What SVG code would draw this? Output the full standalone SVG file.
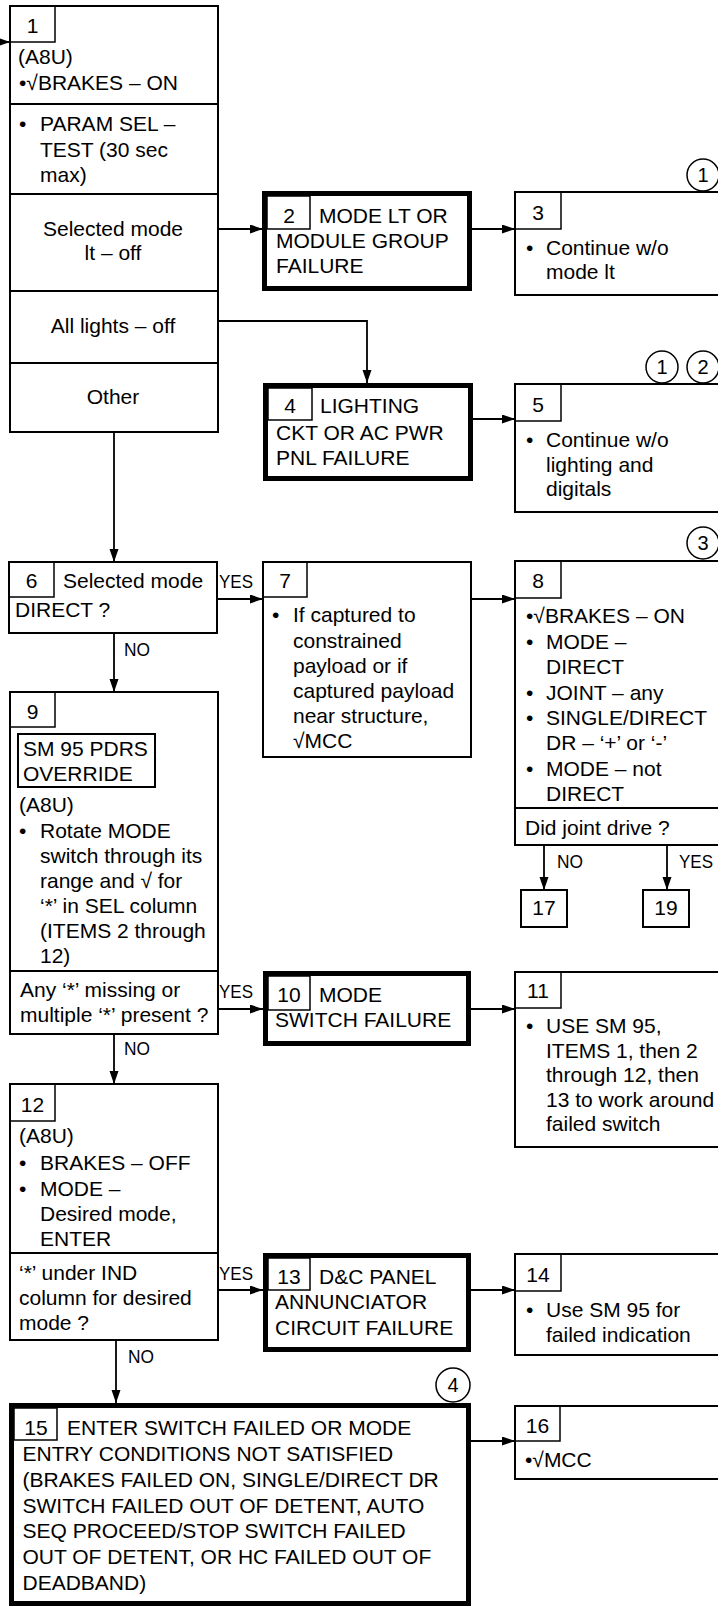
<svg xmlns="http://www.w3.org/2000/svg" width="718" height="1606" viewBox="0 0 718 1606">
<style>
text{font-family:"Liberation Sans",Arial,sans-serif;font-size:21px;fill:#000}
.c{text-anchor:middle}
.lbl{font-size:19px}
.cn{font-size:20px;text-anchor:middle}
.b{fill:#fff;stroke:#000;stroke-width:2}
.tk{fill:#fff;stroke:#000;stroke-width:5}
.n{fill:none;stroke:#000;stroke-width:1.5}
.d{fill:none;stroke:#000;stroke-width:2}
.ci{fill:#fff;stroke:#000;stroke-width:1.5}
.cx path,.cx line{fill:none;stroke:#000;stroke-width:1.8;marker-end:url(#ah)}
</style>
<defs>
<marker id="ah" markerUnits="userSpaceOnUse" markerWidth="14" markerHeight="10" refX="13" refY="4.5" orient="auto">
<path d="M0,0 L13,4.5 L0,9 z" fill="#000"/>
</marker>
</defs>
<rect width="718" height="1606" fill="#fff"/>

<g id="connectors" class="cx">
<line x1="0" y1="42" x2="10" y2="42"/>
<line x1="218" y1="229" x2="263" y2="229"/>
<line x1="472" y1="229" x2="515" y2="229"/>
<path d="M218,321 H367 V383"/>
<line x1="473" y1="419" x2="515" y2="419"/>
<line x1="114" y1="432" x2="114" y2="562"/>
<line x1="217" y1="599" x2="263" y2="599"/>
<line x1="471" y1="599" x2="515" y2="599"/>
<line x1="114" y1="633" x2="114" y2="692"/>
<line x1="544" y1="845" x2="544" y2="890"/>
<line x1="667" y1="845" x2="667" y2="890"/>
<line x1="218" y1="1009" x2="263" y2="1009"/>
<line x1="471" y1="1009" x2="515" y2="1009"/>
<line x1="114" y1="1034" x2="114" y2="1084"/>
<line x1="218" y1="1290" x2="263" y2="1290"/>
<line x1="471" y1="1290" x2="515" y2="1290"/>
<line x1="116" y1="1340" x2="116" y2="1403"/>
<line x1="471" y1="1441" x2="515" y2="1441"/>
<text class="lbl" x="219" y="588" textLength="34" lengthAdjust="spacingAndGlyphs">YES</text>
<text class="lbl" x="124" y="656" textLength="26" lengthAdjust="spacingAndGlyphs">NO</text>
<text class="lbl" x="557" y="868" textLength="26" lengthAdjust="spacingAndGlyphs">NO</text>
<text class="lbl" x="679" y="868" textLength="34" lengthAdjust="spacingAndGlyphs">YES</text>
<text class="lbl" x="219" y="998" textLength="34" lengthAdjust="spacingAndGlyphs">YES</text>
<text class="lbl" x="124" y="1055" textLength="26" lengthAdjust="spacingAndGlyphs">NO</text>
<text class="lbl" x="219" y="1280" textLength="34" lengthAdjust="spacingAndGlyphs">YES</text>
<text class="lbl" x="128" y="1363" textLength="26" lengthAdjust="spacingAndGlyphs">NO</text>
</g>

<g id="node1">
<rect class="b" x="10" y="6" width="208" height="426"/>
<rect class="n" x="10" y="6" width="45" height="36"/>
<text class="c" x="32.5" y="33">1</text>
<text x="18" y="64">(A8U)</text>
<text x="19" y="90">•√BRAKES – ON</text>
<line class="d" x1="10" y1="104" x2="218" y2="104"/>
<text x="19" y="131">•</text>
<text x="40" y="131">PARAM SEL –</text>
<text x="40" y="156.5">TEST (30 sec</text>
<text x="40" y="182">max)</text>
<line class="d" x1="10" y1="194" x2="218" y2="194"/>
<text class="c" x="113" y="236">Selected mode</text>
<text class="c" x="113" y="260">lt – off</text>
<line class="d" x1="10" y1="291" x2="218" y2="291"/>
<text class="c" x="113" y="333">All lights – off</text>
<line class="d" x1="10" y1="363" x2="218" y2="363"/>
<text class="c" x="113" y="404">Other</text>
</g>

<g id="node2">
<rect class="tk" x="264.5" y="193.5" width="205" height="95"/>
<rect class="n" x="267" y="196" width="43" height="33"/>
<text class="c" x="289" y="223">2</text>
<text x="319" y="223">MODE LT OR</text>
<text x="276" y="248">MODULE GROUP</text>
<text x="276" y="273">FAILURE</text>
</g>

<g id="node3">
<rect class="b" x="515" y="192" width="220" height="103"/>
<rect class="n" x="515" y="192" width="46" height="37"/>
<text class="c" x="538" y="220">3</text>
<text x="526" y="255">•</text>
<text x="546" y="255">Continue w/o</text>
<text x="546" y="279">mode lt</text>
<circle class="ci" cx="703" cy="175" r="16"/>
<text class="cn" x="703" y="182">1</text>
</g>

<g id="node4">
<rect class="tk" x="265.5" y="385.5" width="205" height="93"/>
<rect class="n" x="268" y="388" width="44" height="32"/>
<text class="c" x="290" y="413">4</text>
<text x="320" y="413">LIGHTING</text>
<text x="276" y="440">CKT OR AC PWR</text>
<text x="276" y="465">PNL FAILURE</text>
</g>

<g id="node5">
<rect class="b" x="515" y="384" width="220" height="128"/>
<rect class="n" x="515" y="384" width="46" height="37"/>
<text class="c" x="538" y="412">5</text>
<text x="526" y="447">•</text>
<text x="546" y="447">Continue w/o</text>
<text x="546" y="471.5">lighting and</text>
<text x="546" y="496">digitals</text>
<circle class="ci" cx="662" cy="367" r="16"/>
<text class="cn" x="662" y="374">1</text>
<circle class="ci" cx="703" cy="367" r="16"/>
<text class="cn" x="703" y="374">2</text>
</g>

<g id="node6">
<rect class="b" x="9" y="562" width="208" height="71"/>
<rect class="n" x="9" y="562" width="45" height="35"/>
<text class="c" x="31.5" y="588">6</text>
<text x="63" y="588">Selected mode</text>
<text x="15" y="617">DIRECT ?</text>
</g>

<g id="node7">
<rect class="b" x="263" y="562" width="208" height="195"/>
<rect class="n" x="263" y="562" width="44" height="35"/>
<text class="c" x="285" y="588">7</text>
<text x="272" y="622">•</text>
<text x="293" y="622">If captured to</text>
<text x="293" y="647.5">constrained</text>
<text x="293" y="672.5">payload or if</text>
<text x="293" y="697.5">captured payload</text>
<text x="293" y="722.5">near structure,</text>
<text x="293" y="748">√MCC</text>
</g>

<g id="node8">
<rect class="b" x="515" y="561" width="220" height="284"/>
<rect class="n" x="515" y="561" width="46" height="37"/>
<text class="c" x="538" y="588">8</text>
<text x="526" y="623">•√BRAKES – ON</text>
<text x="526" y="649">•</text>
<text x="546" y="649">MODE –</text>
<text x="546" y="674">DIRECT</text>
<text x="526" y="700">•</text>
<text x="546" y="700">JOINT – any</text>
<text x="526" y="725">•</text>
<text x="546" y="725">SINGLE/DIRECT</text>
<text x="546" y="750">DR – ‘+’ or ‘-’</text>
<text x="526" y="776">•</text>
<text x="546" y="776">MODE – not</text>
<text x="546" y="801">DIRECT</text>
<line class="d" x1="515" y1="808" x2="735" y2="808"/>
<text x="525" y="835">Did joint drive ?</text>
<circle class="ci" cx="703" cy="543" r="16"/>
<text class="cn" x="703" y="550">3</text>
</g>

<g id="node17">
<rect class="b" x="521" y="890" width="46" height="37"/>
<text class="c" x="544" y="915">17</text>
</g>

<g id="node19">
<rect class="b" x="643" y="890" width="46" height="37"/>
<text class="c" x="666" y="915">19</text>
</g>

<g id="node9">
<rect class="b" x="10" y="692" width="208" height="342"/>
<rect class="n" x="10" y="692" width="45" height="35"/>
<text class="c" x="32.5" y="719">9</text>
<rect class="d" x="18" y="734" width="137" height="53"/>
<text x="23" y="756">SM 95 PDRS</text>
<text x="23" y="781">OVERRIDE</text>
<text x="19" y="812">(A8U)</text>
<text x="19" y="838">•</text>
<text x="40" y="838">Rotate MODE</text>
<text x="40" y="863">switch through its</text>
<text x="40" y="888">range and √ for</text>
<text x="40" y="913">‘*’ in SEL column</text>
<text x="40" y="938">(ITEMS 2 through</text>
<text x="40" y="963">12)</text>
<line class="d" x1="10" y1="971" x2="218" y2="971"/>
<text x="20" y="997">Any ‘*’ missing or</text>
<text x="20" y="1022">multiple ‘*’ present ?</text>
</g>

<g id="node10">
<rect class="tk" x="265.5" y="973.5" width="203" height="70"/>
<rect class="n" x="268" y="976" width="42" height="34"/>
<text class="c" x="289" y="1002">10</text>
<text x="319" y="1002">MODE</text>
<text x="275" y="1027">SWITCH FAILURE</text>
</g>

<g id="node11">
<rect class="b" x="515" y="972" width="220" height="175"/>
<rect class="n" x="515" y="972" width="46" height="36"/>
<text class="c" x="538" y="998">11</text>
<text x="526" y="1033">•</text>
<text x="546" y="1033">USE SM 95,</text>
<text x="546" y="1057.5">ITEMS 1, then 2</text>
<text x="546" y="1082">through 12, then</text>
<text x="546" y="1106.5">13 to work around</text>
<text x="546" y="1131">failed switch</text>
</g>

<g id="node12">
<rect class="b" x="10" y="1084" width="208" height="256"/>
<rect class="n" x="10" y="1084" width="45" height="37"/>
<text class="c" x="32.5" y="1112">12</text>
<text x="19" y="1143">(A8U)</text>
<text x="19" y="1170">•</text>
<text x="40" y="1170">BRAKES – OFF</text>
<text x="19" y="1196">•</text>
<text x="40" y="1196">MODE –</text>
<text x="40" y="1221">Desired mode,</text>
<text x="40" y="1246">ENTER</text>
<line class="d" x1="10" y1="1253" x2="218" y2="1253"/>
<text x="19" y="1280">‘*’ under IND</text>
<text x="19" y="1305">column for desired</text>
<text x="19" y="1330">mode ?</text>
</g>

<g id="node13">
<rect class="tk" x="265.5" y="1255.5" width="203" height="94"/>
<rect class="n" x="268" y="1258" width="42" height="32"/>
<text class="c" x="289" y="1284">13</text>
<text x="319" y="1284">D&amp;C PANEL</text>
<text x="275" y="1309">ANNUNCIATOR</text>
<text x="275" y="1335">CIRCUIT FAILURE</text>
</g>

<g id="node14">
<rect class="b" x="515" y="1254" width="220" height="101"/>
<rect class="n" x="515" y="1254" width="46" height="37"/>
<text class="c" x="538" y="1282">14</text>
<text x="526" y="1317">•</text>
<text x="546" y="1317">Use SM 95 for</text>
<text x="546" y="1342">failed indication</text>
</g>

<g id="node15">
<rect class="tk" x="11.5" y="1405.5" width="457" height="198"/>
<rect class="n" x="14" y="1408" width="43" height="32"/>
<text class="c" x="36" y="1435">15</text>
<text x="67" y="1435">ENTER SWITCH FAILED OR MODE</text>
<text x="22.5" y="1461">ENTRY CONDITIONS NOT SATISFIED</text>
<text x="22.5" y="1487">(BRAKES FAILED ON, SINGLE/DIRECT DR</text>
<text x="22.5" y="1512.5">SWITCH FAILED OUT OF DETENT, AUTO</text>
<text x="22.5" y="1538">SEQ PROCEED/STOP SWITCH FAILED</text>
<text x="22.5" y="1564">OUT OF DETENT, OR HC FAILED OUT OF</text>
<text x="22.5" y="1590">DEADBAND)</text>
<circle class="ci" cx="453" cy="1385" r="17"/>
<text class="cn" x="453" y="1392">4</text>
</g>

<g id="node16">
<rect class="b" x="515" y="1406" width="220" height="73"/>
<rect class="n" x="515" y="1406" width="45" height="35"/>
<text class="c" x="537.5" y="1433">16</text>
<text x="525" y="1467">•√MCC</text>
</g>
</svg>
